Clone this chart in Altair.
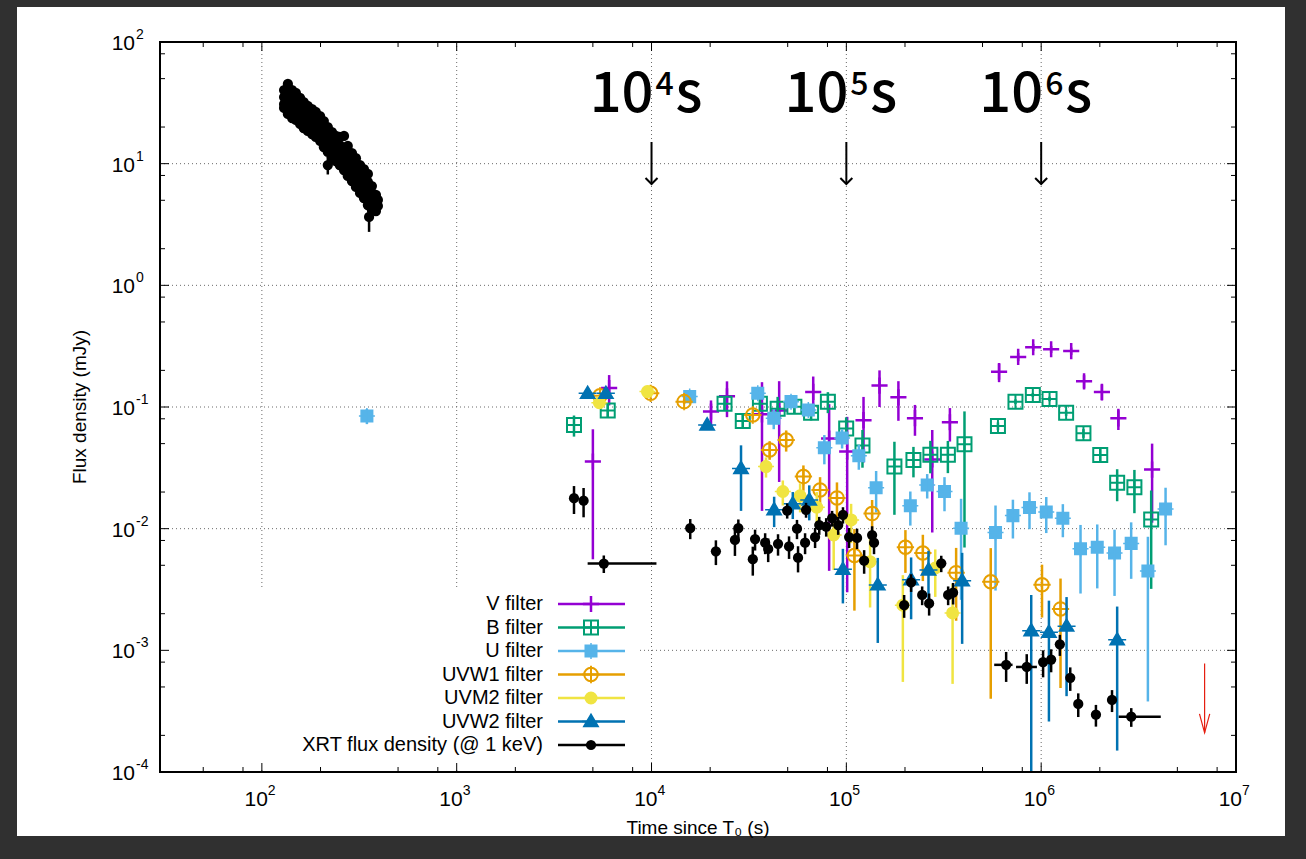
import altair as alt
import pandas as pd

# ---------------------------------------------------------------------------
# Light curve: time since T0 (s), flux density (mJy), 1-sigma error (mJy)
# ---------------------------------------------------------------------------
v_t = [5000, 6060, 20200, 24400, 36900, 45200, 67600, 81600, 101000, 122500,
       148000, 185000, 225000, 276000, 340000, 608000, 762000, 910000, 1125000,
       1426000, 1660000, 2050000, 2490000, 3710000]
v_f = [0.0356, 0.143, 0.0917, 0.1225, 0.087, 0.0936, 0.133, 0.055, 0.043, 0.078,
       0.150, 0.120, 0.081, 0.037, 0.075, 0.195, 0.258, 0.31, 0.298,
       0.288, 0.1625, 0.133, 0.0807, 0.0306]
v_err = [0.030, 0.040, 0.0215, 0.040, 0.073, 0.0694, 0.045, 0.0505, 0.040, 0.043,
         0.050, 0.043, 0.023, 0.0277, 0.023, 0.035, 0.02, 0.02, 0.02,
         0.02, 0.02, 0.02, 0.016, 0.0194]

b_t = [4000, 5960, 23700, 29400, 36000, 44400, 54100, 65900, 80400, 99800,
       121000, 176500, 221000, 270000, 332000, 404000, 600000, 738000, 906000,
       1104000, 1343000, 1648000, 2010000, 2455000, 3010000, 3670000]
b_f = [0.0711, 0.0935, 0.1065, 0.0767, 0.1065, 0.0967, 0.1003, 0.0895, 0.1107, 0.0665,
       0.0482, 0.0324, 0.0367, 0.0406, 0.0406, 0.0495, 0.0697, 0.1107, 0.1256,
       0.1166, 0.0895, 0.0608, 0.0403, 0.0238, 0.0219, 0.0119]
b_err = [0.014, 0.011, 0.012, 0.010, 0.015, 0.0244, 0.012, 0.012, 0.0217, 0.0158,
         0.0165, 0.0194, 0.0103, 0.0121, 0.012, 0.0425, 0.005, 0.005, 0.005,
         0.005, 0.005, 0.005, 0.005, 0.007, 0.0085, 0.0087]

u_t = [346, 15700, 35100, 42400, 52000, 63800, 77100, 95100, 115900, 142200,
       213000, 260000, 319000, 388000, 583000, 716000, 871000, 1062000, 1292000,
       1592000, 1940000, 2380000, 2897000, 3530000, 4350000]
u_f = [0.0843, 0.1217, 0.1295, 0.0807, 0.1107, 0.0945, 0.0463, 0.0556, 0.0397, 0.0217,
       0.0154, 0.0229, 0.0202, 0.0101, 0.0093, 0.0128, 0.0149, 0.0137, 0.0122,
       0.00683, 0.00703, 0.0063, 0.00757, 0.00448, 0.0145]
u_err = [0.012, 0.008, 0.010, 0.015, 0.010, 0.010, 0.0125, 0.010, 0.0092, 0.0081,
         0.0048, 0.0052, 0.0063, 0.0075, 0.0062, 0.0045, 0.005, 0.0045, 0.0037,
         0.0039, 0.0038, 0.0035, 0.0037, 0.0041, 0.0072]

w1_t = [5440, 9900, 14700, 33100, 40400, 49100, 60200, 73300, 89500, 110000,
        135600, 201000, 247000, 366000, 551000, 1010000, 1257000]
w1_f = [0.1235, 0.1295, 0.1107, 0.086, 0.0444, 0.0536, 0.0268, 0.0208, 0.0179, 0.00602,
        0.0133, 0.00703, 0.00631, 0.00435, 0.00366, 0.00346, 0.00219]
w1_err = [0.005, 0.005, 0.005, 0.006, 0.0076, 0.0106, 0.0063, 0.0057, 0.0061, 0.0039,
          0.0039, 0.0027, 0.0026, 0.0026, 0.00326, 0.0016, 0.0017]

m2_t = [5400, 9530, 38700, 47200, 57900, 70500, 86100, 105800, 132400, 195000,
        286000, 351000]
m2_f = [0.1085, 0.134, 0.0324, 0.0202, 0.0186, 0.0150, 0.00887, 0.0118, 0.00535, 0.00235,
        0.00475, 0.00203]
m2_err = [0.005, 0.005, 0.0061, 0.0047, 0.005, 0.005, 0.0043, 0.0042, 0.0031, 0.0018,
          0.002, 0.0015]

w2_t = [4700, 5830, 19300, 28800, 42600, 53100, 64500, 96000, 145000, 215000,
        264000, 393000, 889000, 1096000, 1350000, 2455000]
w2_f = [0.1295, 0.1295, 0.0711, 0.0312, 0.0143, 0.0160, 0.0172, 0.00463, 0.00345, 0.0038,
        0.00458, 0.00373, 0.00145, 0.00141, 0.00158, 0.00122]
w2_err = [0.005, 0.005, 0.005, 0.0172, 0.004, 0.004, 0.0055, 0.0022, 0.0023, 0.002,
          0.002, 0.0026, 0.0014, 0.00115, 0.00116, 0.00107]

# XRT, early steep decay
xe_t = [130, 130, 130, 130,
        136, 136, 136, 136, 136,
        143, 143, 143, 143, 143,
        149.5, 149.5, 149.5, 149.5, 149.5,
        157, 157, 157, 157, 157,
        164, 164, 164, 164, 164,
        172, 172, 172, 172, 172,
        181, 181, 181, 181, 181,
        189, 189, 189, 189, 189,
        199, 199, 199, 199, 199,
        208, 208, 208, 208, 208,
        218, 218, 218, 218, 218, 218,
        229, 229, 229, 229, 229,
        240, 240, 240, 240, 240,
        251, 251, 251, 251, 251,
        264, 264, 264, 264, 264,
        276, 276, 276, 276, 276,
        290, 290, 290, 290, 290,
        304, 304, 304, 304, 304,
        319, 319, 319, 319, 319,
        334, 334, 334, 334, 334,
        350, 350, 350, 350, 350,
        367, 367, 367, 367, 367,
        385, 385, 385, 385,
        394, 394,
        355]
xe_f = [40.3, 35.3, 30.9, 28.7,
        45.2, 38.8, 33.4, 29.2, 25.6,
        40.3, 36.0, 31.5, 27.1, 23.7,
        38.1, 32.7, 29.2, 25.6, 22.9,
        34.7, 30.9, 27.1, 23.7, 21.2,
        32.1, 28.1, 25.1, 22.4, 19.6,
        29.8, 26.6, 23.3, 20.8, 18.6,
        28.1, 24.6, 22.0, 19.6, 17.5,
        26.6, 23.3, 20.8, 18.6, 16.6,
        24.6, 22.0, 19.3, 17.2, 15.4,
        22.4, 19.6, 17.5, 15.6, 13.7,
        20.0, 17.9, 15.9, 14.0, 12.5, 9.75,
        18.2, 16.3, 14.5, 12.9, 11.3,
        16.9, 14.8, 13.2, 11.8, 10.5,
        16.6, 14.2, 12.5, 11.1, 9.75,
        16.9, 13.5, 11.6, 10.1, 8.87,
        14.0, 12.2, 10.7, 9.21, 7.92,
        12.2, 10.7, 9.39, 8.23, 7.20,
        11.1, 9.75, 8.54, 7.34, 6.43,
        9.75, 8.54, 7.48, 6.55, 5.74,
        9.04, 7.77, 6.81, 5.96, 5.22,
        8.23, 7.07, 6.08, 5.22, 4.57,
        6.55, 5.74, 5.03, 4.49, 4.16,
        5.53, 4.93, 4.41, 4.08,
        5.03, 4.49,
        3.65]
xe_err = [3.2, 2.8, 2.5, 2.3,
          3.6, 3.1, 2.7, 2.3, 2.0,
          3.2, 2.9, 2.5, 2.2, 1.9,
          3.0, 2.6, 2.3, 2.0, 1.8,
          2.8, 2.5, 2.2, 1.9, 1.7,
          2.6, 2.2, 2.0, 1.8, 1.6,
          2.4, 2.1, 1.9, 1.7, 1.5,
          2.2, 2.0, 1.8, 1.6, 1.4,
          2.1, 1.9, 1.7, 1.5, 1.3,
          2.0, 1.8, 1.5, 1.4, 1.2,
          1.8, 1.6, 1.4, 1.2, 1.1,
          1.6, 1.4, 1.3, 1.1, 1.0, 1.6,
          1.5, 1.3, 1.2, 1.0, 0.9,
          1.4, 1.2, 1.1, 0.9, 0.8,
          1.3, 1.1, 1.0, 0.9, 0.8,
          1.4, 1.1, 0.9, 0.8, 0.7,
          1.1, 1.0, 0.9, 0.7, 0.6,
          1.0, 0.9, 0.75, 0.65, 0.6,
          0.9, 0.8, 0.7, 0.6, 0.5,
          0.8, 0.7, 0.6, 0.5, 0.45,
          0.72, 0.62, 0.55, 0.48, 0.42,
          0.66, 0.57, 0.49, 0.42, 0.37,
          0.52, 0.46, 0.4, 0.36, 0.33,
          0.44, 0.39, 0.35, 0.33,
          0.4, 0.36,
          0.9]

# XRT, later epochs
xl_t = [4000, 4480, 5690, 15800, 21400, 26800, 27900, 33100, 34000, 38300, 39700,
        44600, 49700, 50800, 55800, 56500, 61400, 62100, 69100, 72600, 78800, 84500,
        90800, 96100, 103300, 113500, 123400, 135600, 138700, 198000, 215000, 245000,
        266000, 307000, 333000, 353000, 661000, 843000, 1023000, 1125000, 1247000,
        1410000, 1550000, 1910000, 2310000, 2900000]
xl_f = [0.0178, 0.0170, 0.00517, 0.0101, 0.00652, 0.00807, 0.0101, 0.00561, 0.00821, 0.00767, 0.00681,
        0.0075, 0.0141, 0.00714, 0.0100, 0.00577, 0.00767, 0.0143, 0.00853, 0.0107, 0.0104, 0.0122,
        0.0107, 0.0130, 0.00853, 0.0084, 0.00546, 0.00887, 0.00767, 0.00235, 0.00362, 0.00285,
        0.00243, 0.00519, 0.00285, 0.00298, 0.00076, 0.00073, 0.00080, 0.00084, 0.00112,
        0.000594, 0.000363, 0.000296, 0.000391, 0.000285]
xl_err = [0.0046, 0.0046, 0.00085, 0.0019, 0.0015, 0.0021, 0.0018, 0.0015, 0.0016, 0.0015, 0.0015,
          0.0015, 0.002, 0.0015, 0.0018, 0.0014, 0.0015, 0.002, 0.0016, 0.0018, 0.0018, 0.0018,
          0.0018, 0.002, 0.0016, 0.0016, 0.0012, 0.0016, 0.0015, 0.0005, 0.0006, 0.0005,
          0.0005, 0.0008, 0.0005, 0.0006, 0.00021, 0.0002, 0.0002, 0.00018, 0.00022,
          0.00013, 0.00008, 0.00006, 0.00008, 0.00005]

# XRT time bins with visible widths
xbin_lo = [4700, 574000, 743000, 2500000]
xbin_hi = [10600, 713000, 951000, 4110000]
xbin_f = [0.00517, 0.00076, 0.00073, 0.000285]

# late-time upper limit
ul_t = [6.9e6]
ul_f = [7.8e-4]
ul_tip = [2.1e-4]

# epoch markers
mark_t = [1e4, 1e5, 1e6]
mark_exp = ["4", "5", "6"]

# axis ticks and labels
x_major = [1e2, 1e3, 1e4, 1e5, 1e6]
x_minor = [50, 80, 200, 500, 800, 2e3, 5e3, 8e3, 2e4, 5e4, 8e4, 2e5, 5e5, 8e5, 2e6, 5e6, 8e6]
y_major = [1e-3, 1e-2, 1e-1, 1e0, 1e1]
y_minor = [2e-4, 5e-4, 8e-4, 2e-3, 5e-3, 8e-3, 2e-2, 5e-2, 8e-2, 2e-1, 5e-1, 8e-1,
           2, 5, 8, 20, 50, 80]
x_lab_t = [1e2, 1e3, 1e4, 1e5, 1e6, 1e7]
x_lab_exp = ["2", "3", "4", "5", "6", "7"]
y_lab_f = [1e2, 1e1, 1e0, 1e-1, 1e-2, 1e-3, 1e-4]
y_lab_exp = ["2", "1", "0", "-1", "-2", "-3", "-4"]

# ---------------------------------------------------------------------------
W, H = 1076, 730
FONT = "Liberation Sans"
X_SCALE = alt.Scale(type="log", domain=[30, 1e7])
Y_SCALE = alt.Scale(type="log", domain=[1e-4, 100])


def xq(field):
    return alt.X(field, type="quantitative", scale=X_SCALE, axis=None)


def yq(field):
    return alt.Y(field, type="quantitative", scale=Y_SCALE, axis=None)


def table(t, f, err):
    df = pd.DataFrame({"t": t, "f": f, "err": err})
    df["lo"] = (df["f"] - df["err"]).clip(lower=1e-6)
    df["hi"] = df["f"] + df["err"]
    return df


one = pd.DataFrame({"k": [0]})

# marker outlines (unit box -1..1)
PLUS = "M-1,0H1M0,-1V1"
SQ_OPEN = "M-1,-1H1V1H-1ZM-1,0H1M0,-1V1"
SQ_FILL = "M-0.72,-0.72H0.72V0.72H-0.72ZM-1,0H1M0,-1V1"
CIRC_OPEN = "M-0.78,0A0.78,0.78,0,1,0,0.78,0A0.78,0.78,0,1,0,-0.78,0ZM-1,0H1M0,-1V1"
CIRC_FILL = "M-0.72,0A0.72,0.72,0,1,0,0.72,0A0.72,0.72,0,1,0,-0.72,0ZM-1,0H1"
TRI = "M-0.8,0.55L0,-0.8L0.8,0.55ZM-1,0H1"

series = [
    ("V filter", "#9400d3", PLUS, 260, False, 2.5, table(v_t, v_f, v_err)),
    ("B filter", "#009e73", SQ_OPEN, 196, False, 2.0, table(b_t, b_f, b_err)),
    ("U filter", "#56b4e9", SQ_FILL, 256, True, 1.5, table(u_t, u_f, u_err)),
    ("UVW1 filter", "#e69f00", CIRC_OPEN, 300, False, 2.0, table(w1_t, w1_f, w1_err)),
    ("UVM2 filter", "#f0e442", CIRC_FILL, 256, True, 1.5, table(m2_t, m2_f, m2_err)),
    ("UVW2 filter", "#0072b2", TRI, 324, True, 1.5, table(w2_t, w2_f, w2_err)),
    ("XRT flux density (@ 1 keV)", "#000000", "circle", 105, True, 0,
     pd.concat([table(xe_t, xe_f, xe_err), table(xl_t, xl_f, xl_err)], ignore_index=True)),
]

layers = []

# white page panel
layers.append(alt.Chart(one).mark_rect(fill="white").encode(
    x=alt.value(-143), x2=alt.value(1125), y=alt.value(-35), y2=alt.value(794)))

# dotted grid at the decades
GRID = dict(color="#6a6a6a", strokeWidth=1, strokeDash=[1, 3])
layers.append(alt.Chart(pd.DataFrame({"t": x_major})).mark_rule(**GRID).encode(
    x=xq("t:Q"), y=alt.value(0), y2=alt.value(H)))
layers.append(alt.Chart(pd.DataFrame({"f": y_major})).mark_rule(**GRID).encode(
    y=yq("f:Q"), x=alt.value(0), x2=alt.value(W)))

# opaque key box
layers.append(alt.Chart(one).mark_rect(fill="white").encode(
    x=alt.value(2), x2=alt.value(480), y=alt.value(548), y2=alt.value(H - 2)))

# inward ticks on all four sides
for vals, ln in ((x_major, 9), (x_minor, 5)):
    d = pd.DataFrame({"t": vals})
    layers.append(alt.Chart(d).mark_rule(color="black", strokeWidth=1).encode(
        x=xq("t:Q"), y=alt.value(H), y2=alt.value(H - ln)))
    layers.append(alt.Chart(d).mark_rule(color="black", strokeWidth=1).encode(
        x=xq("t:Q"), y=alt.value(0), y2=alt.value(ln)))
for vals, ln in ((y_major, 9), (y_minor, 5)):
    d = pd.DataFrame({"f": vals})
    layers.append(alt.Chart(d).mark_rule(color="black", strokeWidth=1).encode(
        y=yq("f:Q"), x=alt.value(0), x2=alt.value(ln)))
    layers.append(alt.Chart(d).mark_rule(color="black", strokeWidth=1).encode(
        y=yq("f:Q"), x=alt.value(W), x2=alt.value(W - ln)))

# tick labels: "10" with a raised exponent
xl = pd.DataFrame({"t": x_lab_t, "e": x_lab_exp})
layers.append(alt.Chart(xl).mark_text(text="10", align="right", baseline="alphabetic", dx=6,
                                      font=FONT, fontSize=21, color="black").encode(
    x=xq("t:Q"), y=alt.value(H + 34)))
layers.append(alt.Chart(xl).mark_text(align="left", baseline="alphabetic", dx=6,
                                      font=FONT, fontSize=14, color="black").encode(
    x=xq("t:Q"), y=alt.value(H + 23), text="e:N"))
yl = pd.DataFrame({"f": y_lab_f, "e": y_lab_exp})
layers.append(alt.Chart(yl).mark_text(text="10", align="right", baseline="alphabetic", dy=8,
                                      font=FONT, fontSize=21, color="black").encode(
    y=yq("f:Q"), x=alt.value(-25)))
layers.append(alt.Chart(yl).mark_text(align="left", baseline="alphabetic", dy=-3,
                                      font=FONT, fontSize=14, color="black").encode(
    y=yq("f:Q"), x=alt.value(-24), text="e:N"))

# axis titles
layers.append(alt.Chart(one).mark_text(text="Time since T₀ (s)", align="center", baseline="middle",
                                       font=FONT, fontSize=19, color="black").encode(
    x=alt.value(W / 2), y=alt.value(H + 56)))
layers.append(alt.Chart(one).mark_text(text="Flux density (mJy)", align="center", baseline="middle",
                                       angle=270, font=FONT, fontSize=19, color="black").encode(
    x=alt.value(-80), y=alt.value(H / 2)))


def point_mark(color, shape, size, filled, sw):
    if filled and sw > 0:
        return dict(shape=shape, size=size, filled=True, fill=color, stroke=color,
                    strokeWidth=sw, opacity=1)
    if filled:
        return dict(shape=shape, size=size, filled=True, fill=color, opacity=1)
    return dict(shape=shape, size=size, filled=False, stroke=color, strokeWidth=sw, opacity=1)


# data: error bars, then markers, series by series
for name, color, shape, size, filled, sw, df in series:
    layers.append(alt.Chart(df).mark_rule(color=color, strokeWidth=2.5, clip=True).encode(
        x=xq("t:Q"), y=yq("lo:Q"), y2="hi:Q"))
    if name.startswith("XRT"):
        bins = pd.DataFrame({"lo": xbin_lo, "hi": xbin_hi, "f": xbin_f})
        layers.append(alt.Chart(bins).mark_rule(color=color, strokeWidth=2.5, clip=True).encode(
            x=xq("lo:Q"), x2="hi:Q", y=yq("f:Q")))
    layers.append(alt.Chart(df).mark_point(clip=True, **point_mark(color, shape, size, filled, sw)).encode(
        x=xq("t:Q"), y=yq("f:Q")))

# upper limit
ul = pd.DataFrame({"t": ul_t, "f": ul_f, "tip": ul_tip})
layers.append(alt.Chart(ul).mark_rule(color="#e51e10", strokeWidth=1.2).encode(
    x=xq("t:Q"), y=yq("f:Q"), y2="tip:Q"))
layers.append(alt.Chart(ul).mark_point(shape="M-0.27,-1L0,0L0.27,-1", size=1444, filled=False,
                                       stroke="#e51e10", strokeWidth=1.2, opacity=1).encode(
    x=xq("t:Q"), y=yq("tip:Q")))

# key
KEY_TOP, KEY_STEP = 562, 23.5
for i, (name, color, shape, size, filled, sw, _) in enumerate(series):
    yy = KEY_TOP + i * KEY_STEP
    lab = pd.DataFrame({"label": [name]})
    layers.append(alt.Chart(lab).mark_text(align="right", baseline="middle", font=FONT,
                                           fontSize=20, color="black").encode(
        text="label:N", x=alt.value(383), y=alt.value(yy)))
    layers.append(alt.Chart(lab).mark_rule(color=color, strokeWidth=2.5).encode(
        x=alt.value(398), x2=alt.value(465), y=alt.value(yy)))
    layers.append(alt.Chart(lab).mark_point(**point_mark(color, shape, size, filled, sw)).encode(
        x=alt.value(431), y=alt.value(yy)))

# plot border
layers.append(alt.Chart(one).mark_rect(fillOpacity=0, stroke="black", strokeWidth=2).encode(
    x=alt.value(0), x2=alt.value(W), y=alt.value(0), y2=alt.value(H)))

# epoch markers: 10^n s with arrows
ANN_FONT = "Noto Sans CJK JP"
marks = pd.DataFrame({"t": mark_t, "e": mark_exp})
layers.append(alt.Chart(marks).mark_text(text="10", align="right", baseline="alphabetic", dx=2,
                                         font=ANN_FONT, fontSize=56, fontWeight=500,
                                         color="black").encode(
    x=xq("t:Q"), y=alt.value(70)))
layers.append(alt.Chart(marks).mark_text(align="left", baseline="alphabetic", dx=4,
                                         font=ANN_FONT, fontSize=32, fontWeight=500,
                                         color="black").encode(
    x=xq("t:Q"), y=alt.value(53), text="e:N"))
layers.append(alt.Chart(marks).mark_text(text="s", align="left", baseline="alphabetic", dx=24,
                                         font=ANN_FONT, fontSize=56, fontWeight=500,
                                         color="black").encode(
    x=xq("t:Q"), y=alt.value(70)))
layers.append(alt.Chart(marks).mark_rule(color="black", strokeWidth=2).encode(
    x=xq("t:Q"), y=alt.value(100), y2=alt.value(142)))
layers.append(alt.Chart(marks).mark_point(shape="M-1,-1L0,0L1,-1", size=144, filled=False,
                                          stroke="black", strokeWidth=2, opacity=1).encode(
    x=xq("t:Q"), y=alt.value(142)))

chart = alt.layer(*layers).properties(
    width=W, height=H,
    autosize=alt.AutoSizeParams(type="none"),
    padding={"left": 160, "top": 42, "right": 70, "bottom": 87},
    background="#303030",
).configure_view(strokeWidth=0)

chart.save("out.html", embed_options={"renderer": "svg", "actions": False})
